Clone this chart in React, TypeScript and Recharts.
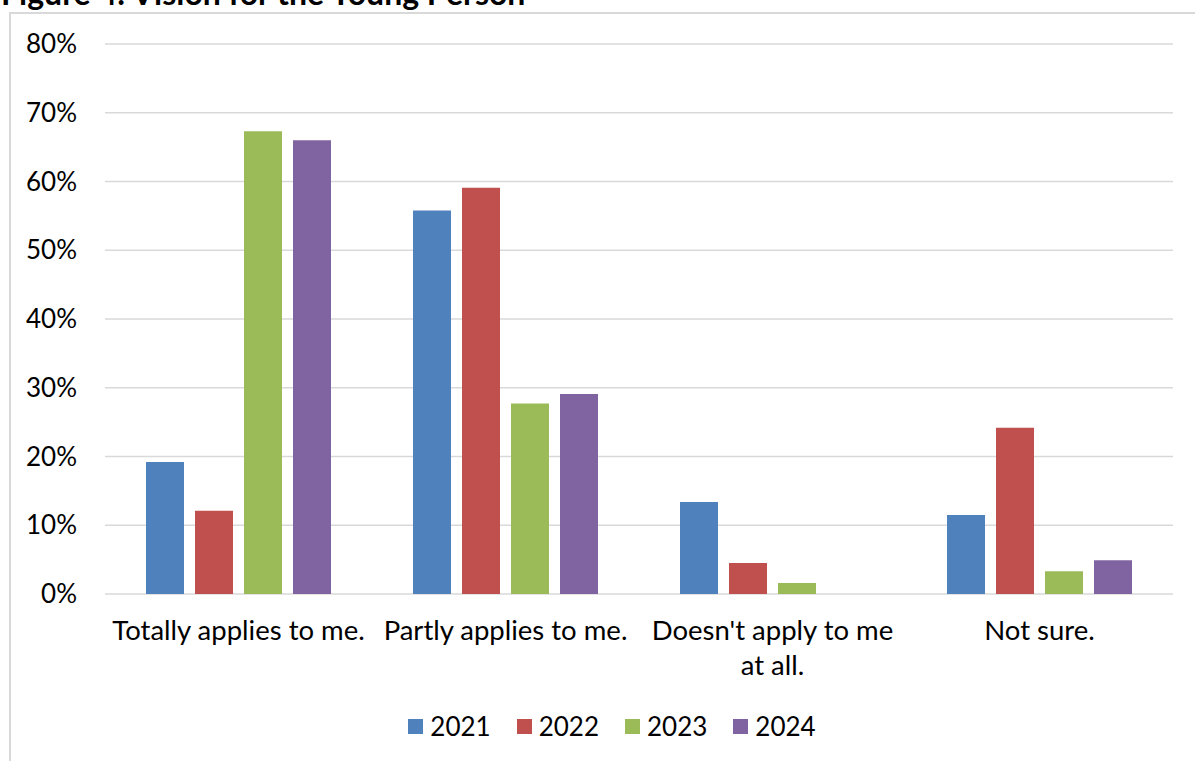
import { BarChart, Bar, XAxis, YAxis, CartesianGrid, Legend } from 'recharts';

const categories = [
  'Totally applies to me.',
  'Partly applies to me.',
  "Doesn't apply to me at all.",
  'Not sure.',
];
const years = ['2021', '2022', '2023', '2024'];
const values2021 = [0.192, 0.558, 0.134, 0.115];
const values2022 = [0.121, 0.591, 0.045, 0.242];
const values2023 = [0.673, 0.277, 0.016, 0.033];
const values2024 = [0.66, 0.291, 0, 0.049];
const yTicks = [0, 0.1, 0.2, 0.3, 0.4, 0.5, 0.6, 0.7, 0.8];

const colors = ['#4F81BD', '#C0504D', '#9BBB59', '#8064A2'];
const FONT = 'Lato, "Open Sans", sans-serif';
const FONT_SIZE = 26;
const LABEL_SIZE = 27.5;
const LABEL_WRAP = 256;

const series = [values2021, values2022, values2023, values2024];

const data = categories.map((name, i) => {
  const row: Record<string, string | number> = { name };
  years.forEach((yr, s) => {
    row[yr] = series[s][i];
  });
  return row;
});

let measureCtx: CanvasRenderingContext2D | null = null;
function textWidth(str: string) {
  if (!measureCtx) measureCtx = document.createElement('canvas').getContext('2d');
  if (!measureCtx) return str.length * LABEL_SIZE * 0.5;
  measureCtx.font = `${LABEL_SIZE}px ${FONT}`;
  return measureCtx.measureText(str).width;
}

// greedy word wrap so long category names break onto a second line
function wrapLabel(label: string, maxWidth: number) {
  const lines: string[] = [];
  let current = '';
  label.split(' ').forEach((word) => {
    const next = current ? `${current} ${word}` : word;
    if (current && textWidth(next) > maxWidth) {
      lines.push(current);
      current = word;
    } else {
      current = next;
    }
  });
  if (current) lines.push(current);
  return lines;
}

const CategoryTick = ({ x, y, payload }: any) => {
  const lines = wrapLabel(String(payload.value), LABEL_WRAP);
  return (
    <text
      x={x}
      y={y + 38}
      textAnchor="middle"
      fontFamily={FONT}
      fontSize={LABEL_SIZE}
      fill="#000"
    >
      {lines.map((line, i) => (
        <tspan key={i} x={x} dy={i === 0 ? 0 : 35}>
          {line}
        </tspan>
      ))}
    </text>
  );
};

const LegendContent = ({ payload }: any) => (
  <div
    style={{
      display: 'flex',
      justifyContent: 'center',
      alignItems: 'center',
      height: 32,
      gap: 26,
      fontFamily: FONT,
      fontSize: FONT_SIZE,
      color: '#000',
    }}
  >
    {(payload || []).map((item: any) => (
      <div key={item.value} style={{ display: 'flex', alignItems: 'center' }}>
        <span
          style={{
            display: 'inline-block',
            width: 15,
            height: 15,
            background: item.color,
            marginRight: 7,
          }}
        />
        <span>{item.value}</span>
      </div>
    ))}
  </div>
);

export default function App() {
  return (
    <div
      style={{
        position: 'absolute',
        left: 0,
        top: 0,
        width: 1195,
        height: 761,
        overflow: 'hidden',
        background: '#fff',
      }}
    >
      <svg width={1195} height={20} style={{ position: 'absolute', left: 0, top: 0 }}>
        <text x={1} y={5} fontFamily={FONT} fontSize={32} fontWeight={700} fill="#000">
          Figure 4: Vision for the Young Person
        </text>
      </svg>
      <div
        style={{
          position: 'absolute',
          left: 9,
          top: 12,
          width: 1230,
          height: 800,
          border: '2px solid #d9d9d9',
          boxSizing: 'border-box',
        }}
      />
      <div style={{ position: 'absolute', left: 0, top: 0 }}>
        <BarChart
          width={1195}
          height={761}
          data={data}
          margin={{ top: 44, right: 22, left: 0, bottom: 0 }}
          barCategoryGap={41}
          barGap={11}
        >
          <CartesianGrid vertical={false} stroke="#d9d9d9" strokeWidth={1.5} />
          <XAxis
            dataKey="name"
            height={167}
            axisLine={false}
            tickLine={false}
            interval={0}
            tick={<CategoryTick />}
          />
          <YAxis
            width={105}
            domain={[0, 0.8]}
            ticks={yTicks}
            axisLine={false}
            tickLine={false}
            tickMargin={22}
            tickFormatter={(v: number) => `${Math.round(v * 100)}%`}
            tick={{ fontFamily: FONT, fontSize: FONT_SIZE, fill: '#000' }}
          />
          <Legend
            verticalAlign="middle"
            align="center"
            content={<LegendContent />}
            wrapperStyle={{ top: 710, left: 0, width: 1224 }}
          />
          {years.map((yr, i) => (
            <Bar key={yr} dataKey={yr} name={yr} fill={colors[i]} isAnimationActive={false} />
          ))}
        </BarChart>
      </div>
    </div>
  );
}
